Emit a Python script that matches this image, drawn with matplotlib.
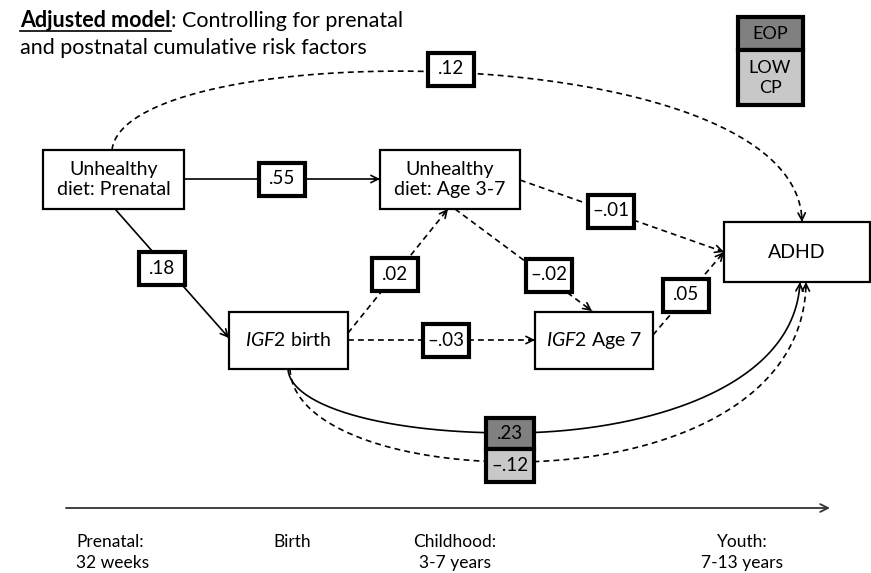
import matplotlib.pyplot as plt
from matplotlib.patches import Rectangle
import numpy as np

plt.rcParams['font.family'] = ['Lato', 'DejaVu Sans']
plt.rcParams['mathtext.fontset'] = 'custom'
plt.rcParams['mathtext.it'] = 'Lato:italic'
plt.rcParams['mathtext.rm'] = 'Lato'

# data
title_bold = 'Adjusted model'
title_rest = ': Controlling for prenatal'
title_line2 = 'and postnatal cumulative risk factors'
node_labels = ['Unhealthy\ndiet: Prenatal', 'Unhealthy\ndiet: Age 3-7', 'ADHD',
               r'$\mathit{IGF2}$ birth', r'$\mathit{IGF2}$ Age 7']
coef_labels = ['.55', '.18', '.02', '–.02', '–.01', '–.03', '.05', '.12']
group_coefs = ['.23', '–.12']
legend_labels = ['EOP', 'LOW\nCP']
time_labels = ['Prenatal:\n32 weeks', 'Birth', 'Childhood:\n3-7 years', 'Youth:\n7-13 years']

# layout (pixel coords, y down)
node_boxes = [(43, 150, 184, 209), (380, 150, 520, 209), (724, 222, 870, 282),
              (229, 312, 348, 369), (535, 312, 653, 369)]
edges = [  # start, end, dashed, label center
    ((184, 179), (380, 179), False, (282, 179)),
    ((115, 209), (229, 338), False, (162, 268)),
    ((348, 333), (448, 209), True, (395, 274)),
    ((455, 209), (592, 311), True, (549, 275)),
    ((520, 180), (724, 252), True, (611, 211)),
    ((348, 340), (535, 340), True, (446, 340)),
    ((653, 335), (724, 252), True, (686, 295)),
]
dark = '#808080'
light = '#c8c8c8'

fig = plt.figure(figsize=(8.71, 5.73), dpi=100)
ax = fig.add_axes([0, 0, 1, 1])
ax.set_xlim(0, 871)
ax.set_ylim(573, 0)
ax.axis('off')


def bez(p0, p1, p2, p3, n=150):
    t = np.linspace(0, 1, n)[:, None]
    p = [np.array(q, float) for q in (p0, p1, p2, p3)]
    return (1-t)**3*p[0] + 3*(1-t)**2*t*p[1] + 3*(1-t)*t**2*p[2] + t**3*p[3]


def draw_line(pts, dashed):
    pts = np.asarray(pts, float)
    ls = (0, (3.5, 2.5)) if dashed else '-'
    ax.plot(pts[:, 0], pts[:, 1], color='black', lw=1.2, ls=ls, zorder=1)
    d = pts[-1] - pts[-2]
    d = d / np.hypot(*d)
    ax.annotate('', xy=pts[-1], xytext=pts[-1] - d*6,
                arrowprops=dict(arrowstyle='->', lw=1.2, color='black',
                                mutation_scale=13, shrinkA=0, shrinkB=0), zorder=1)


def coef_box(c, txt, fc='white', w=46, h=33):
    ax.add_patch(Rectangle((c[0]-w/2, c[1]-h/2), w, h, fc=fc, ec='black', lw=3, zorder=3))
    ax.text(c[0], c[1], txt, ha='center', va='center', fontsize=13.5, zorder=4)


# straight paths
for (s, e, dashed, lc), lab in zip(edges, coef_labels):
    draw_line([s, e], dashed)
    coef_box(lc, lab)

# .12 curve prenatal -> ADHD
draw_line(bez((112, 150), (125, 35), (800, 35), (802, 222)), True)
coef_box((451, 69), coef_labels[7])

# IGF2 birth -> ADHD, two groups
solid = np.vstack([bez((288, 369), (290, 405), (380, 433), (510, 433)),
                   bez((510, 433), (640, 433), (795, 390), (800, 282))])
dash = np.vstack([bez((290, 369), (292, 425), (390, 461), (510, 462)),
                  bez((510, 462), (650, 463), (805, 410), (806, 282))])
draw_line(solid, False)
draw_line(dash, True)
coef_box((510, 433.5), group_coefs[0], fc=dark, w=48, h=31)
coef_box((510, 465.5), group_coefs[1], fc=light, w=48, h=33)

# nodes
for (x0, y0, x1, y1), lab in zip(node_boxes, node_labels):
    ax.add_patch(Rectangle((x0, y0), x1-x0, y1-y0, fc='white', ec='black', lw=1.6, zorder=3))
    ax.text((x0+x1)/2, (y0+y1)/2, lab, ha='center', va='center', fontsize=14,
            linespacing=1.2, zorder=4)

# legend
ax.add_patch(Rectangle((738, 17), 65, 33, fc=dark, ec='black', lw=3, zorder=3))
ax.add_patch(Rectangle((738, 50), 65, 55, fc=light, ec='black', lw=3, zorder=3))
ax.text(770, 34, legend_labels[0], ha='center', va='center', fontsize=13, zorder=4)
ax.text(770, 78, legend_labels[1], ha='center', va='center', fontsize=13,
        linespacing=1.25, zorder=4)

# title
t1 = ax.text(20, 27, title_bold, fontsize=15.5, fontweight='bold', va='baseline')
fig.canvas.draw()
bb = t1.get_window_extent(fig.canvas.get_renderer())
x_end = ax.transData.inverted().transform((bb.x1, bb.y0))[0]
ax.plot([20, x_end], [30.5, 30.5], color='black', lw=1.2)
ax.text(x_end, 27, title_rest, fontsize=15.5, va='baseline')
ax.text(20, 54, title_line2, fontsize=15.5, va='baseline')

# timeline
ax.annotate('', xy=(830, 508), xytext=(66, 508),
            arrowprops=dict(arrowstyle='->', lw=1.3, color='#333333',
                            mutation_scale=14, shrinkA=0, shrinkB=0))
time_x = [76, 292, 455, 742]
time_ha = ['left', 'center', 'center', 'center']
for x, lab, ha in zip(time_x, time_labels, time_ha):
    ax.text(x, 534, lab, ha=ha, va='top', fontsize=12.5, linespacing=1.4)

fig.savefig('out.png', dpi=100)
